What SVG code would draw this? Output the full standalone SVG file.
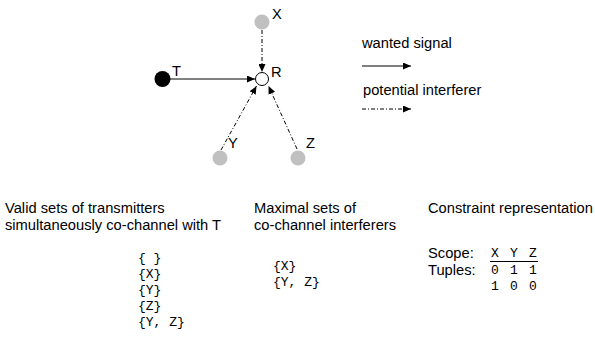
<svg xmlns="http://www.w3.org/2000/svg" width="595" height="338" viewBox="0 0 595 338">
<style>
.t{font-family:"Liberation Sans",Arial,sans-serif;font-size:14.7px;fill:#000}
.m{font-family:"Liberation Mono","Courier New",monospace;font-size:13px;fill:#000}
.s{stroke:#000;stroke-width:1;fill:none}
.d{stroke:#000;stroke-width:1;fill:none;stroke-dasharray:4,2,1,2}
.g{fill:#c0c0c0}
</style>
<defs>
<marker id="ah" markerWidth="8" markerHeight="7" refX="8" refY="3.5" orient="auto" markerUnits="userSpaceOnUse">
<path d="M0,0 L8,3.5 L0,7 z" fill="#000"/>
</marker>
</defs>
<g id="connectors">
<line class="s" x1="170" y1="79" x2="255" y2="79" marker-end="url(#ah)"/>
<line class="d" x1="262" y1="30" x2="262" y2="72" marker-end="url(#ah)"/>
<line class="d" x1="221" y1="150" x2="256.5" y2="86" marker-end="url(#ah)"/>
<line class="d" x1="297" y1="149" x2="268.5" y2="86" marker-end="url(#ah)"/>
</g>
<g id="node-X"><circle class="g" cx="262" cy="22" r="7.5"/><text class="t" x="272" y="19">X</text></g>
<g id="node-R"><circle cx="262" cy="79" r="6.5" fill="#fff" stroke="#000"/><text class="t" x="271" y="77">R</text></g>
<g id="node-T"><circle cx="162.5" cy="79" r="8" fill="#000"/><text class="t" x="172" y="76">T</text></g>
<g id="node-Y"><circle class="g" cx="220" cy="158" r="7.5"/><text class="t" x="228" y="148">Y</text></g>
<g id="node-Z"><circle class="g" cx="298" cy="158" r="7.5"/><text class="t" x="306" y="148">Z</text></g>
<g id="legend">
<text class="t" x="362" y="48">wanted signal</text>
<line class="s" x1="362" y1="66" x2="411" y2="66" marker-end="url(#ah)"/>
<text class="t" x="363" y="95">potential interferer</text>
<line class="d" x1="362" y1="109" x2="411" y2="109" marker-end="url(#ah)"/>
</g>
<g id="valid-sets">
<text class="t" x="5" y="213">Valid sets of transmitters</text>
<text class="t" x="5" y="230">simultaneously co-channel with T</text>
<text class="m" x="138" y="262">{ }</text>
<text class="m" x="138" y="278">{X}</text>
<text class="m" x="138" y="294">{Y}</text>
<text class="m" x="138" y="310">{Z}</text>
<text class="m" x="138" y="326">{Y, Z}</text>
</g>
<g id="maximal-sets">
<text class="t" x="254" y="213">Maximal sets of</text>
<text class="t" x="254" y="230">co-channel interferers</text>
<text class="m" x="273" y="270">{X}</text>
<text class="m" x="273" y="286">{Y, Z}</text>
</g>
<g id="constraint">
<text class="t" x="428" y="213">Constraint representation</text>
<text class="t" x="428" y="258">Scope:</text>
<text class="t" x="428" y="275">Tuples:</text>
<text class="m" x="491 500.5 510 519.5 529" y="257">X Y Z</text>
<line class="s" x1="490" y1="261.5" x2="538" y2="261.5"/>
<text class="m" x="491 500.5 510 519.5 529" y="274">0 1 1</text>
<text class="m" x="491 500.5 510 519.5 529" y="290">1 0 0</text>
</g>
</svg>
